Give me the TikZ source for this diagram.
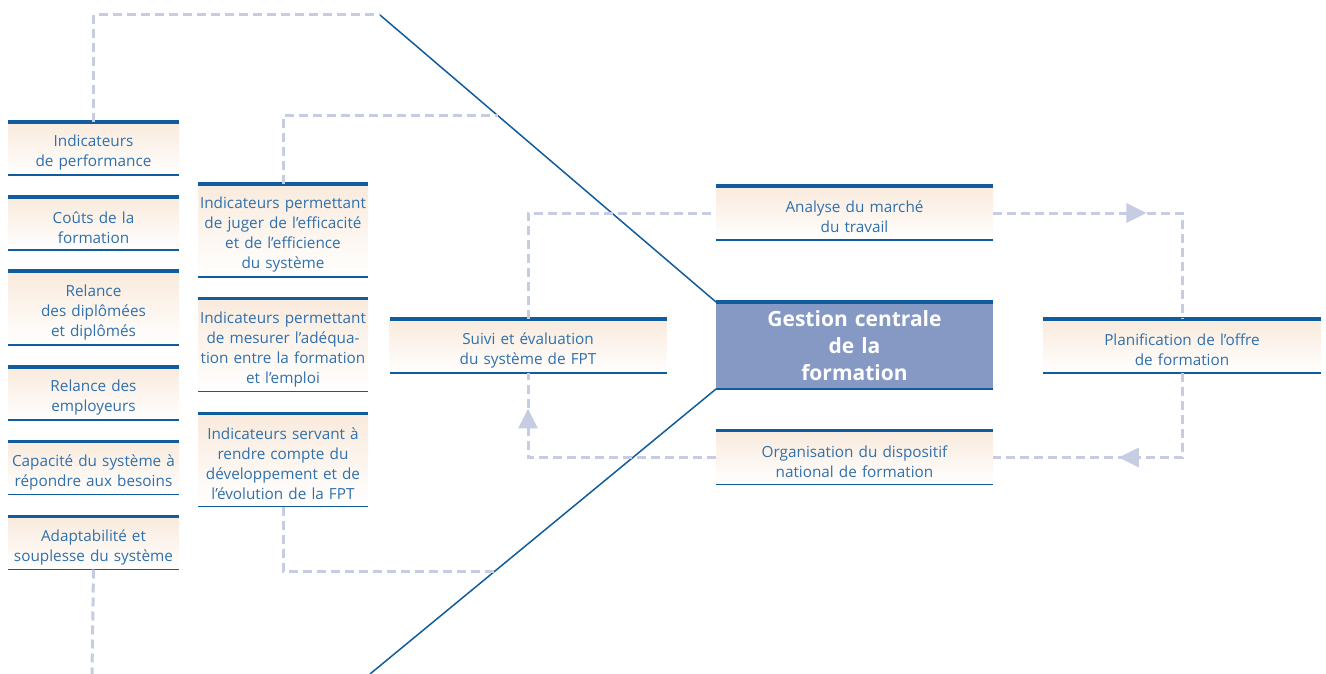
\documentclass[tikz,border=0pt]{standalone}
\usepackage{fontspec}
\setmainfont{Open Sans}
\usetikzlibrary{positioning, arrows.meta, decorations.markings}

\definecolor{lineblue}{RGB}{16,92,156}
\definecolor{textblue}{RGB}{48,112,172}
\definecolor{dashgrey}{RGB}{198,204,226}
\definecolor{gestfill}{RGB}{133,153,196}
\definecolor{peach}{RGB}{249,234,220}

\tikzset{
  box/.style={inner sep=0pt, outer sep=0pt, align=center, text=textblue,
    top color=peach, bottom color=white, font=\fontsize{15.3}{20}\selectfont,
    execute at begin node={\rule{0pt}{20pt}}},
  leftbox/.style={box, minimum width=171pt, text width=171pt, minimum height=53pt},
  midbox/.style={box, minimum width=170pt, text width=170pt, minimum height=93pt},
  widebox/.style={box, minimum width=277pt, text width=277pt, minimum height=54pt},
  gestbox/.style={inner sep=0pt, outer sep=0pt, align=center, fill=gestfill, text=white,
    minimum width=277pt, text width=277pt, minimum height=87pt,
    font=\fontsize{21}{27}\selectfont\bfseries},
  topline/.style={draw=lineblue, line width=3.5pt},
  botline/.style={draw=lineblue, line width=1.1pt},
  diag/.style={draw=lineblue, line width=1.5pt},
  dashline/.style={draw=dashgrey, line width=3pt, dash pattern=on 9pt off 5pt},
  flowtip/.style={postaction={decorate}, decoration={markings,
    mark=at position #1 with {\arrow[dashgrey]{Triangle[length=20pt,width=19pt]}}}}
}

\begin{document}
\begin{tikzpicture}[x=1pt, y=-1pt]
  \useasboundingbox (0,0) rectangle (1326,674);
  % apexes of the two diagonals and the free dashed ends
  \coordinate (apexT) at (380,15);
  \coordinate (apexB) at (370,674);
  \coordinate (crossT) at (498,116);
  \coordinate (crossB) at (495,571);
  \coordinate (botL) at (92,674);

  % left column
  \node[leftbox] (perf) at (93.5,148.5) {Indicateurs\\de performance};
  \node[leftbox] (couts) at (93.5,223.5) {Coûts de la\\formation};
  \node[leftbox, minimum height=74pt] (diplo) at (93.5,308) {Relance\\des diplômées\\et diplômés};
  \node[leftbox] (employ) at (93.5,393.5) {Relance des\\employeurs};
  \node[leftbox] (capac) at (93.5,468) {Capacité du système à\\répondre aux besoins};
  \node[leftbox] (adapt) at (93.5,543) {Adaptabilité et\\souplesse du système};

  % second column
  \node[midbox] (juger) at (283,230.5) {Indicateurs permettant\\de juger de l’efficacité\\et de l’efficience\\du système};
  \node[midbox] (adequa) at (283,345) {Indicateurs permettant\\de mesurer l’adéqua-\\tion entre la formation\\et l’emploi};
  \node[midbox] (devel) at (283,460) {Indicateurs servant à\\rendre compte du\\développement et de\\l’évolution de la FPT};

  % cycle
  \node[widebox] (suivi) at (528,346) {Suivi et évaluation\\du système de FPT};
  \node[widebox] (marche) at (854.5,213) {Analyse du marché\\du travail};
  \node[gestbox] (gestion) at (854.5,345.5) {Gestion centrale\\de la\\formation};
  \node[widebox] (organ) at (854.5,457.5) {Organisation du dispositif\\national de formation};
  \node[widebox, minimum width=278pt] (planif) at (1182,346) {Planification de l’offre\\de formation};

  \foreach \n in {perf,couts,diplo,employ,capac,adapt,juger,adequa,devel,suivi,marche,gestion,organ,planif}{
    \draw[topline] (\n.north west) -- (\n.north east);
    \draw[botline] (\n.south west) -- (\n.south east);
  }

  % diagonals
  \draw[diag] (gestion.north west) -- (apexT);
  \draw[diag] (gestion.south west) -- (apexB);

  % dashed links
  \draw[dashline] (perf.north) |- (apexT);
  \draw[dashline] (adapt.south) -- (botL);
  \draw[dashline] (juger.north) |- (crossT);
  \draw[dashline] (devel.south) |- (crossB);
  \draw[dashline] (suivi.north) |- (marche.west);
  \draw[dashline, flowtip=0.52] (marche.east) -| (planif.north);
  \draw[dashline, flowtip=0.54] (planif.south) |- (organ.east);
  \draw[dashline, flowtip=0.87] (organ.west) -| (suivi.south);
\end{tikzpicture}
\end{document}
